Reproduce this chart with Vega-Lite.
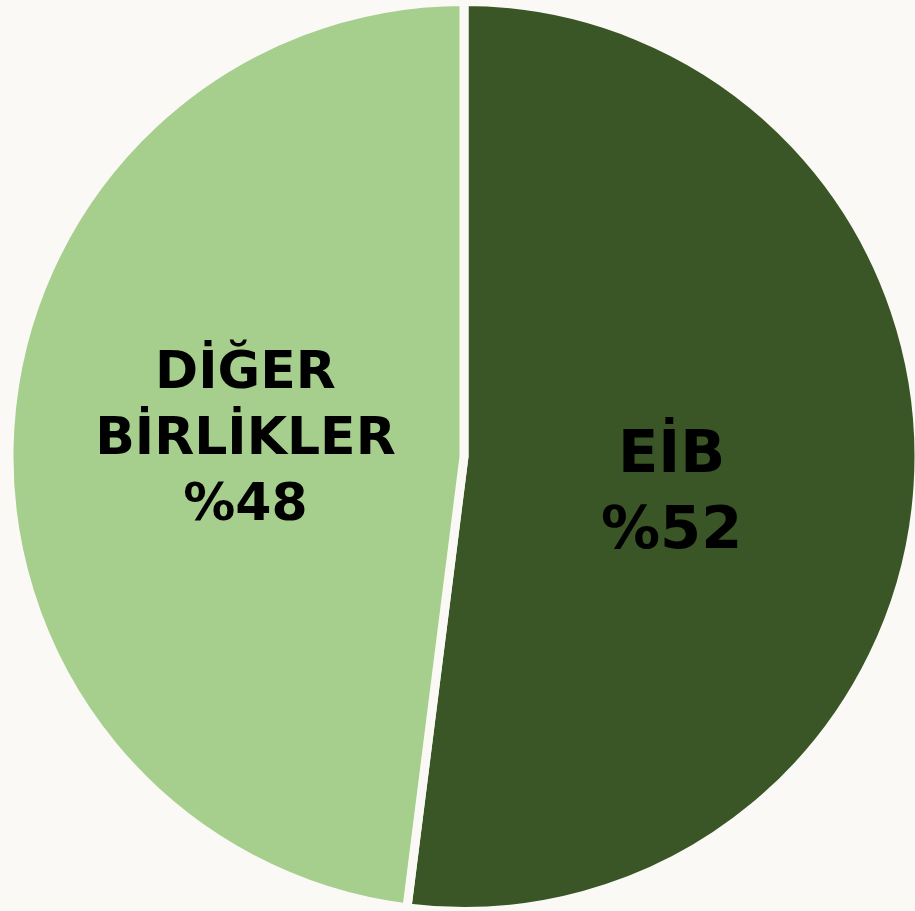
{
  "$schema": "https://vega.github.io/schema/vega-lite/v6.json",
  "width": 915,
  "height": 911,
  "autosize": {"type": "fit", "contains": "padding"},
  "padding": {"left": 13, "top": 4, "right": 0, "bottom": 2},
  "background": "#faf9f5",
  "config": {"view": {"stroke": null}},
  "data": {
    "values": [
      {"category": "EİB", "value": 52, "label": "EİB\n%52"},
      {"category": "DİĞER BİRLİKLER", "value": 48, "label": "DİĞER\nBİRLİKLER\n%48"}
    ]
  },
  "encoding": {
    "theta": {"field": "value", "type": "quantitative", "stack": true},
    "order": {"field": "value", "type": "quantitative", "sort": "descending"}
  },
  "layer": [
    {
      "mark": {"type": "arc", "outerRadius": 455, "stroke": "#faf9f5", "strokeWidth": 9},
      "encoding": {
        "color": {
          "field": "category",
          "type": "nominal",
          "scale": {"domain": ["EİB", "DİĞER BİRLİKLER"], "range": ["#3a5526", "#a6ce8d"]},
          "legend": null
        }
      }
    },
    {
      "mark": {"type": "text", "radius": 208, "dy": -16, "font": "DejaVu Sans", "fontWeight": "bold", "fontSize": 59, "lineHeight": 76, "lineBreak": "\n", "color": "#000000", "align": "center", "baseline": "middle"},
      "encoding": {
        "text": {"condition": {"test": "datum.category === 'EİB'", "field": "label", "type": "nominal"}, "value": ""}
      }
    },
    {
      "mark": {"type": "text", "radius": 219, "dy": -71, "font": "DejaVu Sans", "fontWeight": "bold", "fontSize": 52, "lineHeight": 66, "lineBreak": "\n", "color": "#000000", "align": "center", "baseline": "middle"},
      "encoding": {
        "text": {"condition": {"test": "datum.category === 'DİĞER BİRLİKLER'", "field": "label", "type": "nominal"}, "value": ""}
      }
    }
  ]
}
